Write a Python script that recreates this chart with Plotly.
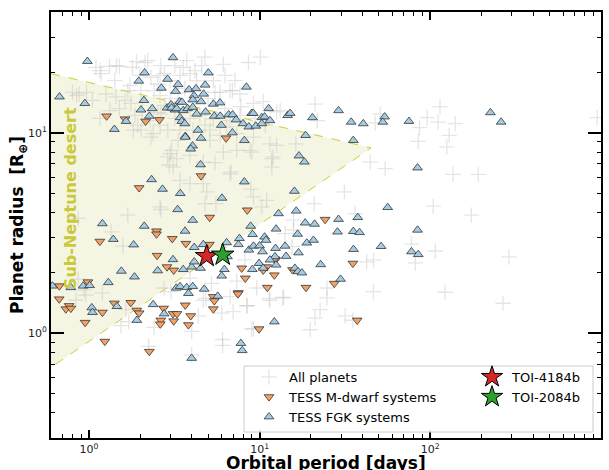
import math
import plotly.graph_objects as go

# ---------------- data (period [days], radius [R_earth]) ----------------
all_P = [1.16, 1.45, 1.90, 2.13, 0.847, 0.969, 1.10, 1.18, 1.51, 1.32, 1.80, 2.21, 2.64, 0.802, 0.877,
         1.05, 1.26, 1.44, 1.69, 1.76, 1.51, 1.93, 2.31, 2.89, 2.96, 2.64, 2.41, 2.02, 2.53, 2.31,
         2.77, 2.02, 3.74, 4.78, 4.58, 8.6, 3.91, 5.36, 4.28, 3.57, 6.71, 7.68, 5.86, 9.21, 12.6,
         10.5, 5.36, 6.41, 7.35, 9.21, 11.5, 12.6, 8.79, 7.35, 6.13, 3.05, 3.34, 5.12, 12.0, 4.68,
         3.27, 3.91, 10.1, 6.93, 7.77, 13.2, 21.1, 21.8, 44.5, 54.4, 31.4, 20.9, 11.8, 11.8, 8.87,
         6.8, 5.48, 8.99, 16.3, 36.3, 4.90, 4.78, 10.3, 47.6, 50.9, 114, 96, 86.5, 85, 111,
         140, 129, 125, 136, 191, 104, 174, 77.6, 81.7, 107, 122, 267, 289, 950, 6.71,
         4.68, 9.21, 11.0, 3.91, 5.55, 15.8, 14.1, 8.21, 3.91, 5.23, 7.35, 9.63, 15.5, 15.8, 46.4,
         21.1, 19.8, 31.7, 35.2, 22.6, 24.8, 13.7, 11.5, 8.4, 7.0, 6.07, 6.07, 9.0, 6.0, 4.85,
         42.4, 46.5, 24.8, 0.96, 1.20, 0.839, 1.65, 1.54, 1.71, 2.41, 2.24, 3.03, 4.0, 4.68, 6.71,
         8.47, 11.4, 13.8, 9.21, 4.0, 4.38, 2.64, 1.69, 1.35, 1.58, 0.865, 0.938, 2.76, 1.82, 2.38,
         2.99, 3.12, 3.42, 2.61, 0.865, 2.61, 2.99, 3.33, 3.65, 4.18, 4.99, 5.48, 2.79, 2.54, 3.19,
         3.91, 4.47, 4.79, 4.07, 3.42, 2.90, 2.61, 2.28, 2.05, 1.86, 1.63, 1.33, 1.16, 5.12, 5.86,
         6.71, 6.27, 7.68, 9.40, 10.8, 3.42, 2.99, 2.61, 3.19, 4.18, 6.27, 7.18, 6.13, 1.74, 1.42,
         1.99]
all_R = [20.4, 21.6, 22.6, 22.4, 15.3, 15.9, 21.2, 19.7, 21.4, 21.4, 21.2, 22.9, 21.6, 15.9, 15.6,
         14.5, 15.6, 15.1, 16.2, 14.0, 13.2, 10.9, 9.5, 7.57, 6.88, 12.4, 16.2, 16.2, 17.5, 18.9,
         19.7, 10.3, 22.9, 23.8, 21.6, 22.4, 19.7, 18.2, 18.2, 21.2, 16.2, 15.6, 15.9, 14.0, 12.7,
         14.3, 11.7, 10.7, 9.9, 9.5, 8.8, 8.65, 8.17, 8.17, 8.0, 8.17, 9.16, 9.16, 7.57, 7.14,
         7.42, 7.71, 23.8, 16.2, 13.5, 12.9, 13.9, 11.5, 7.14, 6.62, 5.07, 4.43, 7.42, 6.74, 5.23,
         6.37, 7.09, 8.0, 8.8, 3.95, 5.07, 4.43, 4.27, 11.2, 12.4, 13.5, 11.9, 10.6, 9.05, 11.3,
         11.1, 9.7, 8.5, 6.2, 6.2, 4.30, 3.88, 2.78, 2.24, 2.57, 1.60, 1.41, 2.40, 11.9, 6.24,
         5.57, 4.78, 4.60, 5.57, 4.43, 3.66, 3.14, 2.32, 1.88, 1.77, 1.82, 1.68, 2.70, 3.27, 1.61,
         1.19, 1.04, 1.22, 1.16, 1.31, 1.50, 1.50, 1.46, 1.37, 1.28, 0.93, 0.87, 1.05, 1.26, 1.49,
         2.27, 2.32, 1.68, 1.55, 1.59, 1.46, 1.31, 1.09, 1.14, 1.07, 0.86, 1.61, 1.02, 1.46, 1.52,
         1.37, 1.49, 1.51, 1.05, 0.78, 1.22, 4.14, 3.88, 3.20, 2.72, 1.86, 1.64, 1.68, 10.3, 9.9,
         7.85, 6.74, 5.79, 4.27, 3.74, 15.3, 14.8, 15.8, 16.6, 14.5, 14.8, 15.9, 13.7, 12.6, 11.8,
         11.8, 12.2, 10.9, 10.3, 10.3, 10.3, 10.9, 11.5, 12.9, 12.2, 14.5, 12.9, 11.8, 10.3, 9.7,
         11.5, 13.2, 12.2, 11.8, 10.9, 19.3, 18.2, 19.3, 21.6, 20.4, 19.3, 18.2, 21.9, 17.2, 18.2,
         19.3]

mdwarf_P = [1.27, 1.63, 2.15, 2.59, 1.97, 2.49, 2.49, 6.36, 4.54, 8.47, 5.10, 24.2, 2.51, 2.87, 3.14,
            3.08, 1.16, 0.987, 0.672, 0.670, 3.70, 5.08, 7.86, 8.25, 11.0, 12.4, 12.2, 15.6, 11.1, 7.51,
            5.36, 35.2, 27.4, 18.7, 5.43, 5.36, 37.3, 9.93, 0.733, 0.766, 0.784, 0.951, 1.20, 1.41, 1.76,
            1.91, 1.97, 1.24, 2.26, 2.74, 3.11, 3.28, 2.64, 2.62, 3.14, 3.67, 3.95, 3.83, 7.47, 10.5,
            12.3]
mdwarf_R = [12.1, 11.7, 11.4, 11.6, 5.31, 3.23, 3.12, 9.4, 6.09, 4.11, 3.78, 3.69, 2.44, 2.14, 2.06,
            2.96, 2.87, 1.80, 1.72, 1.48, 2.80, 2.77, 2.11, 1.88, 2.14, 2.32, 1.95, 2.07, 1.69, 1.59,
            1.52, 2.23, 1.77, 1.69, 1.45, 1.32, 1.16, 1.05, 1.32, 1.37, 1.33, 1.13, 1.27, 1.41, 1.42,
            1.30, 1.26, 0.91, 0.81, 1.33, 1.25, 1.25, 1.16, 1.11, 1.15, 1.38, 1.22, 1.10, 1.57, 2.06,
            2.34]

fgk_P = [0.98, 3.11, 2.12, 1.96, 2.66, 2.89, 3.22, 3.86, 0.673, 0.947, 2.10, 2.02, 2.35, 2.26, 2.87,
         3.03, 3.19, 3.40, 3.42, 3.50, 1.41, 1.65, 3.67, 4.05, 3.95, 5.01, 3.33, 4.24, 4.13, 4.80,
         4.70, 4.06, 4.54, 3.51, 5.36, 5.86, 8.37, 3.05, 3.27, 3.57, 3.79, 4.06, 4.28, 4.83, 5.43,
         5.88, 6.59, 6.95, 7.28, 8.99, 9.18, 10.3, 10.7, 11.3, 11.5, 14.6, 15.1, 8.0, 8.65, 9.5,
         10.3, 5.97, 3.65, 4.36, 3.67, 4.54, 8.14, 6.93, 4.51, 20.4, 29.0, 34.4, 40.5, 54.0, 52.7,
         35.4, 17.0, 18.3, 75, 225, 260, 84.2, 84.2, 77.6, 85, 2.33, 2.70, 3.43, 3.31, 1.20,
         1.39, 2.11, 1.83, 3.11, 2.53, 1.55, 1.85, 1.30, 0.784, 0.926, 1.01, 0.612, 3.25, 6.02, 8.14,
         4.06, 12.5, 3.66, 8.87, 10.7, 10.9, 7.62, 6.41, 4.68, 4.14, 7.51, 8.65, 9.21, 10.0, 10.4,
         12.4, 14.1, 14.3, 12.3, 16.9, 6.48, 11.5, 9.93, 10.5, 9.07, 12.5, 3.57, 4.00, 4.14, 4.51,
         6.22, 6.00, 16.1, 16.8, 3.42, 3.74, 4.06, 3.83, 4.74, 5.68, 16.7, 18.9, 20.7, 28.6, 35.5,
         51.5, 22.8, 17.7, 29.8, 12.2, 7.77, 7.91, 1.04, 1.05, 1.46, 1.91, 2.38, 2.76, 4.00, 9.1,
         18.5, 21.0, 29.0, 37.6, 56.3, 35.4, 38.5, 16.4, 12.9, 16.0, 18.6]
fgk_R = [22.7, 23.7, 19.9, 18.1, 16.7, 18.5, 16.1, 16.4, 15.1, 14.0, 14.5, 13.0, 13.2, 12.1, 13.3,
         13.8, 13.0, 14.3, 11.9, 11.4, 10.4, 11.4, 9.6, 8.6, 8.3, 19.9, 17.4, 16.6, 15.3, 17.3,
         15.6, 14.6, 14.3, 14.2, 13.9, 14.1, 16.9, 13.3, 13.2, 12.9, 13.2, 13.4, 12.4, 12.7, 12.1,
         12.1, 12.3, 12.3, 11.6, 12.5, 12.5, 11.9, 12.0, 13.2, 11.5, 12.2, 12.5, 11.1, 10.7, 10.8,
         11.1, 10.9, 11.1, 10.3, 9.5, 9.4, 9.15, 10.0, 6.93, 11.9, 12.9, 11.3, 11.1, 12.0, 11.3,
         9.16, 7.67, 7.15, 11.4, 12.6, 11.3, 6.68, 3.27, 2.55, 2.47, 5.84, 5.23, 4.98, 4.14, 3.52,
         2.94, 3.42, 2.76, 2.33, 2.05, 2.04, 1.91, 1.79, 1.69, 1.72, 1.73, 1.72, 1.68, 4.72, 5.69,
         3.66, 3.31, 3.23, 3.42, 3.02, 2.91, 2.97, 2.83, 2.77, 2.68, 2.77, 2.60, 2.72, 2.73, 2.55,
         2.65, 2.72, 2.42, 2.41, 2.52, 2.41, 2.32, 2.23, 2.11, 2.08, 2.19, 2.08, 2.14, 2.27, 2.11,
         2.08, 1.93, 2.11, 2.03, 1.71, 1.69, 1.71, 1.58, 1.66, 1.53, 3.12, 2.82, 2.91, 3.20, 2.62,
         2.71, 2.20, 2.00, 1.86, 1.14, 0.89, 0.82, 1.34, 1.27, 1.36, 1.16, 1.39, 1.25, 0.75, 3.11,
         3.55, 3.50, 3.70, 3.78, 4.24, 3.22, 3.18, 4.07, 3.95, 5.11, 9.70]

toi4184_P = [4.90]
toi4184_R = [2.42]
toi2084_P = [6.08]
toi2084_R = [2.46]

desert_P = [0.6, 45.0, 0.6]
desert_R = [19.7, 8.4, 0.675]

x_tickvals = [1, 10, 100, 1000]
x_ticktext = ["10<sup>0</sup>", "10<sup>1</sup>", "10<sup>2</sup>", "10<sup>3</sup>"]
y_tickvals = [1, 10]
y_ticktext = ["10<sup>0</sup>", "10<sup>1</sup>"]

x_range = [0.6, 1000]
y_range = [0.3, 40]

# ---------------- figure ----------------
fig = go.Figure()

fig.add_trace(go.Scatter(
    x=desert_P, y=desert_R, mode="lines", fill="toself",
    fillcolor="rgba(232,232,190,0.42)",
    line=dict(color="#cfcf2a", width=1, dash="dash"),
    showlegend=False, hoverinfo="skip"))

fig.add_trace(go.Scatter(
    x=all_P, y=all_R, mode="markers", name="All planets",
    marker=dict(symbol="cross-thin", size=11,
                line=dict(width=1.3, color="rgba(190,190,190,0.4)")),
    legend="legend"))

fig.add_trace(go.Scatter(
    x=mdwarf_P, y=mdwarf_R, mode="markers", name="TESS M-dwarf systems",
    marker=dict(symbol="triangle-down", size=8.5, color="#f4a166",
                line=dict(width=0.8, color="#333333")),
    legend="legend"))

fig.add_trace(go.Scatter(
    x=fgk_P, y=fgk_R, mode="markers", name="TESS FGK systems",
    marker=dict(symbol="triangle-up", size=8.5, color="#a3cde6",
                line=dict(width=0.8, color="#333333")),
    legend="legend"))

fig.add_trace(go.Scatter(
    x=toi4184_P, y=toi4184_R, mode="markers", name="TOI-4184b",
    marker=dict(symbol="star", size=17, color="#d62728",
                line=dict(width=1, color="black")),
    legend="legend2"))

fig.add_trace(go.Scatter(
    x=toi2084_P, y=toi2084_R, mode="markers", name="TOI-2084b",
    marker=dict(symbol="star", size=17, color="#2ca02c",
                line=dict(width=1, color="black")),
    legend="legend2"))

minor_x = [m * 10 ** k for k in range(-1, 3) for m in range(2, 10)]
minor_y = [m * 10 ** k for k in range(-1, 2) for m in range(2, 10)]

font_family = "DejaVu Sans"
xr = [math.log10(v) for v in x_range]
yr = [math.log10(v) for v in y_range]

fig.update_xaxes(
    type="log", range=xr, automargin=False,
    showline=True, linecolor="black", linewidth=2, mirror="allticks",
    ticks="inside", ticklen=8, tickwidth=1.5, tickcolor="black",
    tickmode="array", tickvals=x_tickvals, ticktext=x_ticktext,
    tickfont=dict(family=font_family, size=11, color="#222"),
    minor=dict(ticks="inside", ticklen=4, tickwidth=1, tickcolor="black",
               tickmode="array", tickvals=minor_x),
    showgrid=False, zeroline=False)

fig.update_yaxes(
    type="log", range=yr, automargin=False,
    showline=True, linecolor="black", linewidth=2, mirror="allticks",
    ticks="inside", ticklen=13, tickwidth=1.5, tickcolor="black",
    tickmode="array", tickvals=y_tickvals, ticktext=y_ticktext,
    tickfont=dict(family=font_family, size=11, color="#222"),
    minor=dict(ticks="inside", ticklen=4, tickwidth=1, tickcolor="black",
               tickmode="array", tickvals=minor_y),
    showgrid=False, zeroline=False)

fig.update_layout(
    width=609, height=470,
    margin=dict(l=51, r=8, t=12, b=32, autoexpand=False),
    paper_bgcolor="white", plot_bgcolor="white",
    font=dict(family=font_family, size=13, color="black"),
    yaxis2=dict(type="log", range=yr, overlaying="y", side="left", automargin=False,
                anchor="x", showline=False, showgrid=False, zeroline=False,
                ticks="outside", ticklen=5, tickwidth=1.5, tickcolor="black",
                tickmode="array", tickvals=y_tickvals, showticklabels=False),
    legend=dict(x=0.36, y=0.1784, xanchor="left", yanchor="top",
                bgcolor="rgba(0,0,0,0)", borderwidth=0,
                font=dict(family=font_family, size=13, color="black"),
                tracegroupgap=0, itemsizing="trace"),
    legend2=dict(x=0.7655, y=0.1784, xanchor="left", yanchor="top",
                 bgcolor="rgba(0,0,0,0)", borderwidth=0,
                 font=dict(family=font_family, size=13, color="black"),
                 tracegroupgap=0, itemsizing="trace"),
    shapes=[dict(type="rect", xref="paper", yref="paper",
                 x0=0.351, x1=0.9855, y0=0.014, y1=0.169,
                 line=dict(color="#cccccc", width=1),
                 fillcolor="rgba(255,255,255,0.85)", layer="above")],
    annotations=[
        dict(text="<b>Sub-Neptune desert</b>", x=0.0345, y=0.563, xref="paper", yref="paper",
             xanchor="center", yanchor="middle",
             textangle=-90, showarrow=False,
             font=dict(family=font_family, size=16, color="#c9c93a")),
        dict(text="<b>Orbital period [days]</b>", x=0.5, y=0, xref="paper", yref="paper",
             yanchor="top", yshift=-13, showarrow=False,
             font=dict(family=font_family, size=17, color="black")),
        dict(text="<b>Planet radius  [R<sub>⊕</sub>]</b>", x=0, y=0.5, xref="paper", yref="paper",
             xanchor="center", xshift=-33, textangle=-90, showarrow=False,
             font=dict(family=font_family, size=17, color="black")),
    ],
)

fig.write_html("out.html", config={"displayModeBar": False},
               post_script="document.body.style.margin='0';")
